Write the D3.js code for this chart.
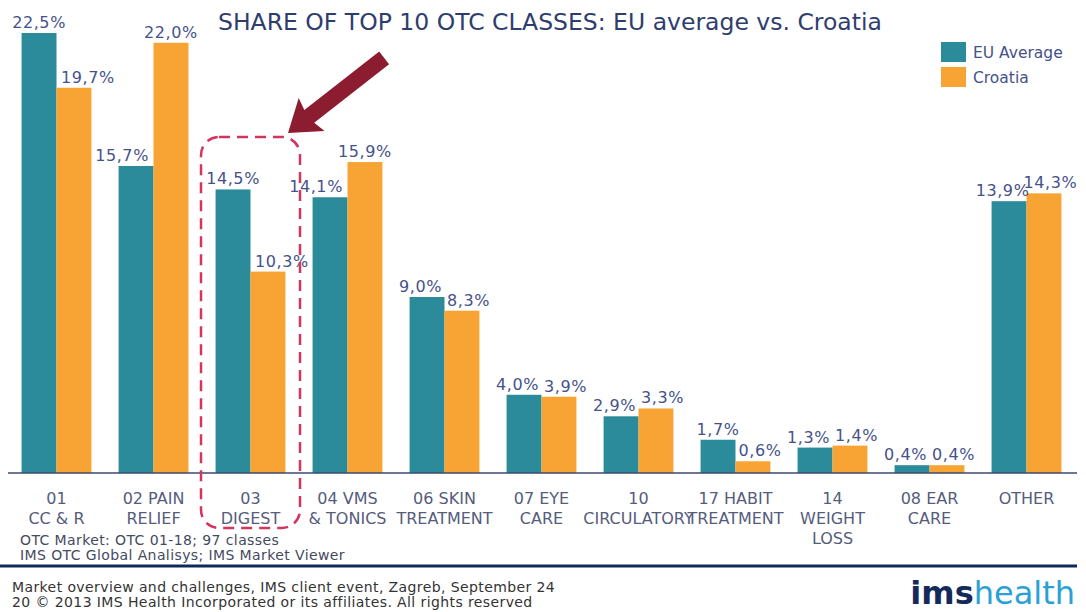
<!DOCTYPE html>
<html>
<head>
<meta charset="utf-8">
<script src="https://d3js.org/d3.v7.min.js"></script>
<style>
body { margin: 0; background: #fff; }
svg { display: block; font-family: 'DejaVu Sans', Verdana, sans-serif; }
</style>
</head>
<body>
<div id="chart"></div>
<script>
// data
var categories = ["01|CC & R", "02 PAIN|RELIEF", "03|DIGEST", "04 VMS|& TONICS", "06 SKIN|TREATMENT",
  "07 EYE|CARE", "10|CIRCULATORY", "17 HABIT|TREATMENT", "14|WEIGHT|LOSS", "08 EAR|CARE", "OTHER"];
var euValues = [22.5, 15.7, 14.5, 14.1, 9.0, 4.0, 2.9, 1.7, 1.3, 0.4, 13.9];
var croValues = [19.7, 22.0, 10.3, 15.9, 8.3, 3.9, 3.3, 0.6, 1.4, 0.4, 14.3];
var seriesNames = ["EU Average", "Croatia"];
var seriesColors = ["#2b8b9b", "#f7a435"];

var width = 1086, height = 612;
var baseY = 473;

var svg = d3.select("#chart").append("svg").attr("width", width).attr("height", height);

var x0 = d3.scaleBand().domain(categories).range([8, 1075]).paddingInner(0.28).paddingOuter(0.14);
var x1 = d3.scaleBand().domain([0, 1]).range([0, x0.bandwidth()]);
var y = d3.scaleLinear().domain([0, 22.5]).range([baseY, 33]);

var fmt = v => d3.format(".1f")(v).replace(".", ",") + "%";

var rows = categories.map((c, i) => ({cat: c, vals: [euValues[i], croValues[i]]}));

// labels of a pair are pushed apart so they don't collide (like on the slide)
function nudge(vals, i) {
  var a = vals[0], b = vals[1];
  if (Math.abs(a - b) < 1) return i == 0 ? -6.5 : 6.5;
  var s = (a < 10 && b < 10) ? 7 : 14;
  if (i == 0) return a < b ? -s : 0;
  return b < a ? s : 0;
}

// title
svg.append("text").attr("x", 218).attr("y", 30)
  .style("font-size", "23.5px").attr("fill", "#2f3d6e")
  .text("SHARE OF TOP 10 OTC CLASSES: EU average vs. Croatia");

// bars
var g = svg.selectAll(".grp").data(rows).enter().append("g")
  .attr("transform", d => "translate(" + x0(d.cat) + ",0)");

g.selectAll("rect").data(d => d.vals).enter().append("rect")
  .attr("x", (d, i) => x1(i))
  .attr("y", d => y(d))
  .attr("width", x1.bandwidth())
  .attr("height", d => baseY - y(d))
  .attr("fill", (d, i) => seriesColors[i]);

g.selectAll(".val").data(d => d.vals.map((v, i) => ({v: v, i: i, all: d.vals}))).enter().append("text")
  .attr("x", d => x1(d.i) + x1.bandwidth() / 2 + nudge(d.all, d.i))
  .attr("y", d => y(d.v) - 5)
  .attr("text-anchor", "middle")
  .style("font-size", "16px").style("letter-spacing", "0.6px").attr("fill", "#45528a")
  .text(d => fmt(d.v));

// axis line
svg.append("line").attr("x1", 8).attr("x2", 1077).attr("y1", baseY).attr("y2", baseY)
  .attr("stroke", "#3d4a6e").attr("stroke-width", 1.5);

// category labels
var lab = svg.selectAll(".cat").data(categories).enter().append("text")
  .attr("text-anchor", "middle")
  .style("font-size", "16px").attr("fill", "#555c7c");
lab.selectAll("tspan").data(d => d.split("|").map(t => ({t: t, c: d}))).enter().append("tspan")
  .attr("x", d => x0(d.c) + x0.bandwidth() / 2)
  .attr("y", (d, i) => 504 + i * 20)
  .text(d => d.t);

// legend
var leg = svg.selectAll(".leg").data(seriesNames).enter().append("g")
  .attr("transform", (d, i) => "translate(941," + (42 + i * 25) + ")");
leg.append("rect").attr("width", 25).attr("height", 20).attr("fill", (d, i) => seriesColors[i]);
leg.append("text").attr("x", 32).attr("y", 16).style("font-size", "15.5px").attr("fill", "#45528a").text(d => d);

// highlight box around 03 DIGEST
svg.append("rect").attr("x", 201).attr("y", 137).attr("width", 99).attr("height", 391)
  .attr("rx", 18).attr("fill", "none").attr("stroke", "#d2355e")
  .attr("stroke-width", 2.5).attr("stroke-dasharray", "11,7");

// arrow
var ax = 288, ay = 133, ang = Math.atan2(58 - ay, 384 - ax) * 180 / Math.PI;
svg.append("path")
  .attr("d", "M0,0 L30,-21 L27,-8 L122,-8 L122,8 L27,8 L30,21 Z")
  .attr("transform", "translate(" + ax + "," + ay + ") rotate(" + ang + ")")
  .attr("fill", "#8c1c30");

// source notes
var notes = ["OTC Market: OTC 01-18; 97 classes", "IMS OTC Global Analisys; IMS Market Viewer"];
svg.selectAll(".note").data(notes).enter().append("text")
  .attr("x", 20).attr("y", (d, i) => 545 + i * 15)
  .style("font-size", "14px").style("letter-spacing", "0.4px").attr("fill", "#444a60").text(d => d);

svg.append("line").attr("x1", 0).attr("x2", 1077).attr("y1", 566).attr("y2", 566)
  .attr("stroke", "#12285a").attr("stroke-width", 3);

// footer
var foot = ["Market overview and challenges, IMS client event, Zagreb, September 24",
  "20  \u00a9  2013 IMS Health Incorporated or its affiliates. All rights reserved"];
svg.selectAll(".foot").data(foot).enter().append("text")
  .attr("x", 12).attr("y", (d, i) => 592 + i * 15)
  .style("font-size", "14px").style("letter-spacing", "0.4px").attr("fill", "#333").text(d => d);

var logo = svg.append("text").attr("x", 1075).attr("y", 604).attr("text-anchor", "end")
  .style("font-size", "32px");
logo.append("tspan").attr("font-weight", "bold").attr("fill", "#14295c").text("ims");
logo.append("tspan").attr("fill", "#2aa1d6").text("health");
</script>
</body>
</html>
